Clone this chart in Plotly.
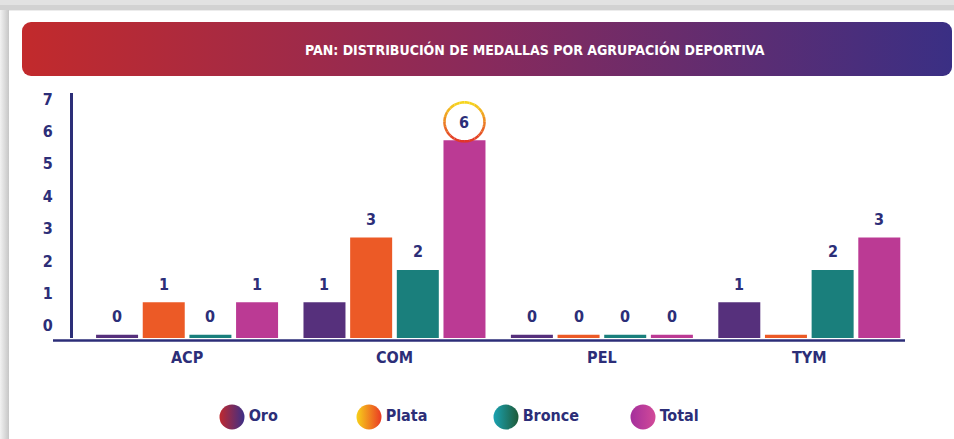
import base64
import math
import plotly.graph_objects as go

# ---------------- data ----------------
categories = ["ACP", "COM", "PEL", "TYM"]
series_names = ["Oro", "Plata", "Bronce", "Total"]
oro = [0, 1, 0, 1]
plata = [1, 3, 0, 0]
bronce = [0, 2, 0, 2]
total = [1, 6, 0, 3]
y_ticks = [0, 1, 2, 3, 4, 5, 6, 7]
title_text = "PAN: DISTRIBUCIÓN DE MEDALLAS POR AGRUPACIÓN DEPORTIVA"
unlabelled = [("TYM", "Plata")]   # the source shows no value label here

# ---------------- style ----------------
W, H = 954, 439
L, R, T, B = 73, 41, 93, 10
PW, PH = W - L - R, H - T - B
BASE_PX = 338                      # pixel row of the bar baseline
NAVY = "#2c2e78"
FONT = "DejaVu Sans Condensed, Liberation Sans Narrow, Arial Narrow, sans-serif"
bar_colors = ["#56307c", "#ec5a26", "#1a7f7c", "#bb3a94"]
# (left colour, right colour) of each legend circle
legend_grad = [("#c0292e", "#3b2f88"), ("#f7d11a", "#ea3a24"),
               ("#1aa2b2", "#1e5a38"), ("#a42f9c", "#d24a98")]
RING_TOP, RING_BOTTOM = (246, 214, 30), (226, 52, 40)
STUB = 0.1           # minimum visible bar height (axis units) below zero
UNIT_PX = 32.4
BARGAP, GROUPGAP = 0.1, 0.1


def px_x(px):
    return (px - L) / PW


def px_y(py):
    return (H - B - py) / PH


main_bottom = px_y(BASE_PX)
main_h_px = BASE_PX - T

all_series = [oro, plata, bronce, total]

fig = go.Figure()
for name, vals, col in zip(series_names, all_series, bar_colors):
    fig.add_trace(go.Bar(
        x=categories, y=[v + STUB for v in vals], base=-STUB,
        customdata=vals, name=name, marker=dict(color=col, line=dict(width=0)),
        hovertemplate="%{x} " + name + ": %{customdata}<extra></extra>",
        showlegend=False,
    ))

# legend row (gradient circles + labels) on its own small axis pair
fig.add_trace(go.Scatter(
    x=series_names, y=[0] * len(series_names), xaxis="x2", yaxis="y2",
    mode="markers+text", text=series_names, textposition="middle right",
    textfont=dict(family=FONT, size=16, color=NAVY, weight="bold"),
    marker=dict(symbol="circle", size=25, color=[c[0] for c in legend_grad],
                gradient=dict(type="horizontal", color=[c[1] for c in legend_grad]),
                line=dict(width=0)),
    hoverinfo="skip", showlegend=False, cliponaxis=False,
))

# value labels above bars
n = len(series_names)
slot = (1 - BARGAP) / n
annotations = []
for j, (sname, vals) in enumerate(zip(series_names, all_series)):
    off = (j - (n - 1) / 2) * slot
    for i, v in enumerate(vals):
        if (categories[i], sname) in unlabelled:
            continue
        annotations.append(dict(
            x=i + off, y=v, xref="x", yref="y", text=str(v), showarrow=False,
            yshift=18, yanchor="middle",
            font=dict(family=FONT, size=16, color=NAVY, weight="bold"),
        ))

# title text on banner
annotations.append(dict(
    x=px_x(535), y=px_y(49), xref="paper", yref="paper", text=title_text,
    showarrow=False, xanchor="center", yanchor="middle",
    font=dict(family=FONT, size=14, color="white", weight="bold"),
))

shapes = [
    # card shadow strips (decoration)
    dict(type="rect", xref="paper", yref="paper", layer="below",
         x0=px_x(0), x1=px_x(W), y0=px_y(0), y1=px_y(5),
         fillcolor="#e2e2e2", line=dict(width=0)),
    dict(type="rect", xref="paper", yref="paper", layer="below",
         x0=px_x(0), x1=px_x(W), y0=px_y(5), y1=px_y(10),
         fillcolor="#d2d2d2", line=dict(width=0)),
    dict(type="line", xref="paper", yref="paper",
         x0=px_x(53), x1=px_x(905), y0=px_y(340.5), y1=px_y(340.5),
         line=dict(color=NAVY, width=2.5)),
]

# gradient ring (yellow top -> red bottom) around the highest total
imax = total.index(max(total))
ring_x = imax + (n - 1 - (n - 1) / 2) * slot
RX, RY, CY, NSEG = 20, 19.5, 18.5, 24
for k in range(NSEG):
    a0 = 2 * math.pi * k / NSEG
    a1 = 2 * math.pi * (k + 1) / NSEG
    pts = []
    for s in range(5):
        a = a0 + (a1 - a0) * s / 4
        pts.append((RX * math.cos(a), CY + RY * math.sin(a)))
    am = (a0 + a1) / 2
    t = (1 - math.sin(am)) / 2
    rgb = tuple(round(RING_TOP[c] + (RING_BOTTOM[c] - RING_TOP[c]) * t) for c in range(3))
    path = "M " + " L ".join(f"{x:.2f},{y:.2f}" for x, y in pts)
    shapes.append(dict(type="path", xref="x", yref="y", xsizemode="pixel",
                       ysizemode="pixel", xanchor=ring_x, yanchor=total[imax],
                       path=path, line=dict(color=f"rgb{rgb}", width=2.6)))

# background card + gradient banner (decoration)
svg = f"""<svg xmlns="http://www.w3.org/2000/svg" width="{W}" height="{H}" viewBox="0 0 {W} {H}">
<defs>
<linearGradient id="gban" x1="0" y1="0" x2="1" y2="0">
<stop offset="0" stop-color="#c22a2c"/><stop offset="0.5" stop-color="#882a5c"/><stop offset="1" stop-color="#3a2f84"/>
</linearGradient>
<linearGradient id="gleft" x1="0" y1="0" x2="1" y2="0">
<stop offset="0" stop-color="#f2f2f2"/><stop offset="1" stop-color="#c6c6c6"/>
</linearGradient>
</defs>
<rect x="0" y="0" width="{W}" height="{H}" fill="#ececec"/>
<rect x="0" y="9" width="9" height="{H - 9}" fill="url(#gleft)"/>
<rect x="9" y="11" width="{W - 9}" height="{H - 11}" fill="#ffffff"/>
<rect x="22" y="22" width="930" height="54" rx="9" ry="9" fill="url(#gban)"/>
</svg>"""
src = "data:image/svg+xml;base64," + base64.b64encode(svg.encode("utf-8")).decode("ascii")

# legend axis range so circles fall at ~232 px + 137 px steps
LEG_START, LEG_STEP = 232, 137
leg_r0 = -(LEG_START - L) / LEG_STEP
leg_r1 = leg_r0 + PW / LEG_STEP

fig.update_layout(
    width=W, height=H,
    margin=dict(l=L, r=R, t=T, b=B, pad=0),
    paper_bgcolor="white", plot_bgcolor="rgba(0,0,0,0)",
    barmode="group", bargap=BARGAP, bargroupgap=GROUPGAP,
    font=dict(family=FONT, color=NAVY),
    images=[dict(source=src, xref="paper", yref="paper", x=px_x(0), y=px_y(0),
                 sizex=W / PW, sizey=H / PH, xanchor="left", yanchor="top",
                 sizing="stretch", layer="below")],
    annotations=annotations,
    shapes=shapes,
    showlegend=False,
    xaxis=dict(type="category", categoryorder="array", categoryarray=categories,
               range=[-0.55, 3.5], showline=False, showgrid=False, zeroline=False,
               ticks="", ticklabelstandoff=8, anchor="y",
               tickfont=dict(family=FONT, size=16, color=NAVY, weight="bold")),
    yaxis=dict(domain=[main_bottom, 1],
               range=[-STUB, -STUB + main_h_px / UNIT_PX], tickvals=y_ticks,
               showgrid=False, zeroline=False, showline=True, linewidth=3,
               linecolor=NAVY, ticks="", ticklabelstandoff=14, ticklabelshift=-9,
               anchor="x",
               tickfont=dict(family=FONT, size=16, color=NAVY, weight="bold")),
    xaxis2=dict(type="category", categoryorder="array", categoryarray=series_names,
                range=[leg_r0, leg_r1], visible=False, anchor="y2", fixedrange=True),
    yaxis2=dict(domain=[px_y(428), px_y(406)], range=[-1, 1], visible=False,
                anchor="x2", fixedrange=True),
)

fig.write_html("out.html", config={"displayModeBar": False},
               post_script="document.body.style.margin='0';")
